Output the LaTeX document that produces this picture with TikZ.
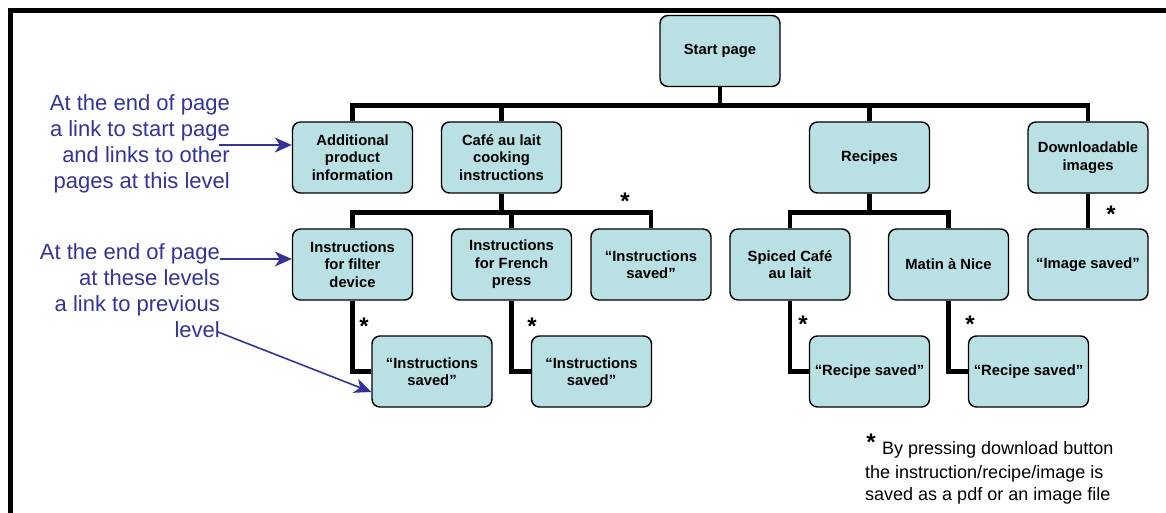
\documentclass[tikz,border=0pt]{standalone}
\usepackage{fontspec}
\setmainfont{Liberation Sans}
\usetikzlibrary{arrows.meta}
\definecolor{boxfill}{RGB}{185,224,227}
\definecolor{notecol}{RGB}{51,51,153}
\tikzset{
  page/.style={draw=black, line width=1.4pt, fill=boxfill, rounded corners=8pt,
    minimum width=120pt, minimum height=71pt, inner sep=0pt, align=center,
    font=\fontsize{14.8}{17.5}\selectfont\bfseries},
  link/.style={line width=4.2pt, line join=miter},
  star/.style={anchor=base, inner sep=0pt, font=\fontsize{24}{24}\selectfont\bfseries},
  note/.style={text=notecol, font=\fontsize{22}{26}\selectfont, align=right,
    inner sep=0pt, anchor=north east},
  pointer/.style={draw=notecol, line width=1.6pt, -{Stealth[length=17pt,width=15pt,inset=5pt]}},
  footnote/.style={font=\fontsize{18}{22}\selectfont, align=left, inner sep=0pt,
    anchor=north west}
}
\begin{document}
\begin{tikzpicture}[x=1pt,y=-1pt]
\useasboundingbox (0,0) rectangle (1166,513);
% outer frame
\draw[line width=4.6pt, line join=miter] (10.3,513) -- (10.3,10.3) -- (1166,10.3);

% pages
\node[page] (start)    at (720,51)      {Start page};
\node[page] (add)      at (352.5,157.5) {Additional\\product\\information};
\node[page] (cafe)     at (501.5,157.5) {Café au lait\\cooking\\instructions};
\node[page] (rec)      at (869.5,157.5) {Recipes};
\node[page] (down)     at (1088,157.5)  {Downloadable\\images};
\node[page] (filter)   at (352.5,264.5) {Instructions\\for filter\\device};
\node[page] (french)   at (511.5,264.5) {Instructions\\for French\\press};
\node[page] (isaved)   at (651,264.5)   {“Instructions\\saved”};
\node[page] (spiced)   at (790,264.5)   {Spiced Café\\au lait};
\node[page] (matin)    at (948.5,264.5) {Matin à Nice};
\node[page] (imgsaved) at (1088,264.5)  {“Image saved”};
\node[page] (fsaved)   at (432,371.5)   {“Instructions\\saved”};
\node[page] (psaved)   at (591.5,371.5) {“Instructions\\saved”};
\node[page] (rsaved1)  at (869.5,371.5) {“Recipe saved”};
\node[page] (rsaved2)  at (1028.5,371.5){“Recipe saved”};

% bus levels
\coordinate (bus1) at (0,105.5);
\coordinate (bus2) at (0,212.5);

% tree links
\draw[link] (start.south) -- (start.south |- bus1);
\draw[link] (add.north) -- (add.north |- bus1) -- (down.north |- bus1) -- (down.north);
\draw[link] (cafe.north) -- (cafe.north |- bus1);
\draw[link] (rec.north) -- (rec.north |- bus1);

\draw[link] (cafe.south) -- (cafe.south |- bus2);
\draw[link] (filter.north) -- (filter.north |- bus2) -- (isaved.north |- bus2) -- (isaved.north);
\draw[link] (french.north) -- (french.north |- bus2);

\draw[link] (rec.south) -- (rec.south |- bus2);
\draw[link] (spiced.north) -- (spiced.north |- bus2) -- (matin.north |- bus2) -- (matin.north);
\draw[link] (down.south) -- (imgsaved.north);

\draw[link] (filter.south) |- (fsaved.west);
\draw[link] (french.south) |- (psaved.west);
\draw[link] (spiced.south) |- (rsaved1.west);
\draw[link] (matin.south) |- (rsaved2.west);

% download markers
\node[star] (s1) at (625,209.5) {*};
\node[star] (s2) at (364,334.5) {*};
\node[star] (s3) at (532,334.5) {*};
\node[star] (s4) at (803,332.5) {*};
\node[star] (s5) at (970,332.5) {*};
\node[star] (s6) at (1111,222.5) {*};

% side notes
\node[note] (note1) at (230,94) {At the end of page\\a link to start page\\and links to other\\pages at this level};
\node[note] (note2) at (220,243) {At the end of page\\at these levels\\a link to previous\\level};
\coordinate (t1) at (219,145);
\coordinate (t2) at (220,259);
\coordinate (t3) at (218,332);
\draw[pointer] (t1) -- (t1 -| add.west);
\draw[pointer] (t2) -- (t2 -| filter.west);
\draw[pointer] (t3) -- ([yshift=-20.5pt]fsaved.west);

% footnote
\node[star] (s7) at (871,450.5) {*};
\node[footnote] (foot) at (865,441) {\hspace*{17pt}By pressing download button\\[2pt]the instruction/recipe/image is\\saved as a pdf or an image file};
\end{tikzpicture}
\end{document}
